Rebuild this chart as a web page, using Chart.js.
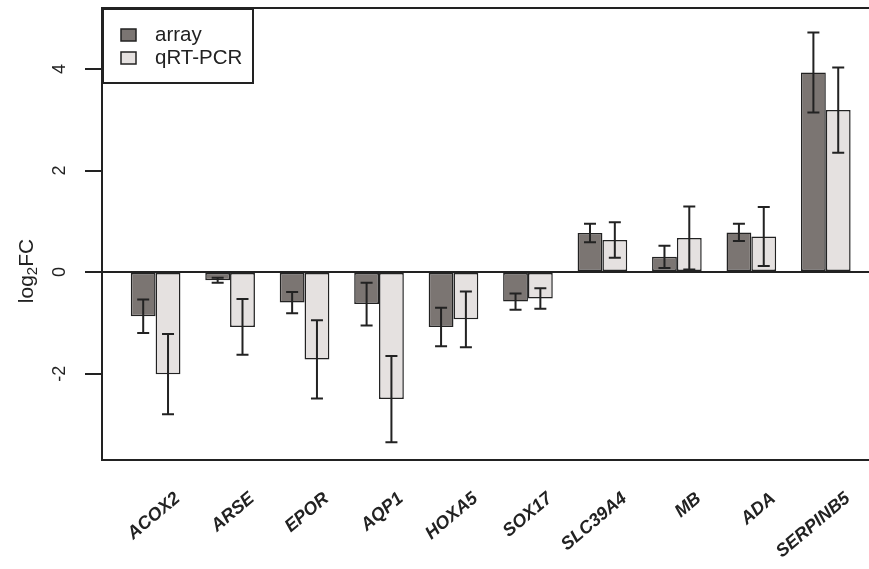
<!DOCTYPE html>
<html>
<head>
<meta charset="utf-8">
<script src="https://cdn.jsdelivr.net/npm/chart.js@4.4.1/dist/chart.umd.min.js"></script>
<style>
    html, body { margin: 0; padding: 0; background: #fff; overflow: hidden; }
    #wrap { position: relative; width: 869px; height: 569px; }
</style>
</head>
<body>
<div id="wrap"><canvas id="fcChart"></canvas></div>
<script>
// log2 fold changes
const genes = ['ACOX2', 'ARSE', 'EPOR', 'AQP1', 'HOXA5', 'SOX17', 'SLC39A4', 'MB', 'ADA', 'SERPINB5'];
const arrayFC = [-0.87, -0.16, -0.60, -0.63, -1.08, -0.58, 0.77, 0.30, 0.78, 3.93];
const arrayErr = [0.33, 0.05, 0.21, 0.42, 0.38, 0.16, 0.18, 0.22, 0.17, 0.79];
const qpcrFC = [-2.01, -1.08, -1.72, -2.50, -0.93, -0.52, 0.63, 0.67, 0.70, 3.19];
const qpcrErr = [0.79, 0.55, 0.77, 0.85, 0.55, 0.20, 0.35, 0.62, 0.58, 0.84];
const yTicks = [-2, 0, 2, 4];

const INK = '#222222';
const ARRAY_COLOR = '#7b7572';
const QPCR_COLOR = '#e5e1e0';

// bars sit at group index 1..10 on a linear x axis (R barplot spacing)
const toPoints = vals => vals.map((v, i) => ({ x: i + 1, y: v }));

// error bars drawn from the data through the scales
const errorBars = {
    id: 'errorBars',
    afterDatasetsDraw(chart) {
        const ctx = chart.ctx;
        const yScale = chart.scales.y;
        ctx.save();
        ctx.strokeStyle = INK;
        ctx.lineWidth = 2;
        chart.data.datasets.forEach((ds, di) => {
            const meta = chart.getDatasetMeta(di);
            meta.data.forEach((bar, i) => {
                const v = ds.data[i].y;
                const e = ds.errors[i];
                const top = yScale.getPixelForValue(v + e);
                const bot = yScale.getPixelForValue(v - e);
                const cap = 6;
                ctx.beginPath();
                ctx.moveTo(bar.x, top); ctx.lineTo(bar.x, bot);
                ctx.moveTo(bar.x - cap, top); ctx.lineTo(bar.x + cap, top);
                ctx.moveTo(bar.x - cap, bot); ctx.lineTo(bar.x + cap, bot);
                ctx.stroke();
            });
        });
        ctx.restore();
    }
};

// frame, y tick labels, y title and boxed legend (base R look)
const rFrame = {
    id: 'rFrame',
    afterDraw(chart) {
        const ctx = chart.ctx;
        const area = chart.chartArea;
        const yScale = chart.scales.y;
        ctx.save();

        // top frame line
        ctx.strokeStyle = INK;
        ctx.lineWidth = 2;
        ctx.beginPath();
        ctx.moveTo(area.left, area.top);
        ctx.lineTo(area.right, area.top);
        ctx.stroke();

        // rotated tick labels
        ctx.fillStyle = INK;
        ctx.font = '18px "Liberation Sans", Arial, sans-serif';
        ctx.textAlign = 'center';
        ctx.textBaseline = 'middle';
        yTicks.forEach(t => {
            const y = yScale.getPixelForValue(t);
            ctx.save();
            ctx.translate(area.left - 42, y);
            ctx.rotate(-Math.PI / 2);
            ctx.fillText(String(t), 0, 0);
            ctx.restore();
        });

        // y title: log2FC with subscript
        ctx.save();
        ctx.translate(27, (area.top + area.bottom) / 2 + 37);
        ctx.rotate(-Math.PI / 2);
        const big = '21px "Liberation Sans", Arial, sans-serif';
        const small = '15px "Liberation Sans", Arial, sans-serif';
        ctx.font = big;
        const w1 = ctx.measureText('log').width;
        const w3 = ctx.measureText('FC').width;
        ctx.font = small;
        const w2 = ctx.measureText('2').width;
        let x = -(w1 + w2 + w3) / 2;
        ctx.textAlign = 'left';
        ctx.font = big;
        ctx.fillText('log', x, 0); x += w1;
        ctx.font = small;
        ctx.fillText('2', x, 6); x += w2;
        ctx.font = big;
        ctx.fillText('FC', x, 0);
        ctx.restore();

        // legend box
        const lx = area.left + 1, ly = area.top + 1;
        ctx.fillStyle = '#fff';
        ctx.fillRect(lx, ly, 150, 74);
        ctx.strokeStyle = INK;
        ctx.lineWidth = 2;
        ctx.strokeRect(lx, ly, 150, 74);
        ctx.font = '20.5px "Liberation Sans", Arial, sans-serif';
        ctx.textAlign = 'left';
        ctx.textBaseline = 'middle';
        chart.data.datasets.forEach((ds, i) => {
            const cy = ly + 26 + i * 23;
            ctx.fillStyle = ds.backgroundColor;
            ctx.fillRect(lx + 18, cy - 6, 15, 12);
            ctx.lineWidth = 1.5;
            ctx.strokeRect(lx + 18, cy - 6, 15, 12);
            ctx.fillStyle = INK;
            ctx.fillText(ds.label, lx + 52, cy);
        });
        ctx.restore();
    }
};

new Chart(document.getElementById('fcChart'), {
    type: 'bar',
    data: {
        datasets: [
            {
                label: 'array',
                data: toPoints(arrayFC),
                errors: arrayErr,
                backgroundColor: ARRAY_COLOR,
                borderColor: INK,
                borderWidth: 1.5,
                borderSkipped: false
            },
            {
                label: 'qRT-PCR',
                data: toPoints(qpcrFC),
                errors: qpcrErr,
                backgroundColor: QPCR_COLOR,
                borderColor: INK,
                borderWidth: 1.5,
                borderSkipped: false
            }
        ]
    },
    options: {
        responsive: true,
        maintainAspectRatio: false,
        animation: false,
        categoryPercentage: 2 / 3,
        barPercentage: 1,
        layout: { padding: { top: 8, left: 0, right: 0, bottom: 0 } },
        plugins: {
            legend: { display: false },
            tooltip: { enabled: false }
        },
        scales: {
            x: {
                type: 'linear',
                offset: false,
                min: 0.28,
                max: 10.58,
                afterBuildTicks: scale => {
                    scale.ticks = genes.map((g, i) => ({ value: i + 1 }));
                },
                afterFit: scale => { scale.height = 109; },
                grid: { display: false, drawTicks: false, offset: false },
                border: { display: true, color: INK, width: 2 },
                ticks: {
                    autoSkip: false,
                    minRotation: 40,
                    maxRotation: 40,
                    padding: 28,
                    labelOffset: 22,
                    color: INK,
                    font: { family: '"Liberation Sans", Arial, sans-serif', size: 18, weight: 'bold', style: 'italic' },
                    callback: value => genes[value - 1] || ''
                }
            },
            y: {
                min: -3.70,
                max: 5.20,
                afterBuildTicks: scale => {
                    scale.ticks = yTicks.map(v => ({ value: v }));
                },
                afterFit: scale => { scale.width = 102; },
                grid: {
                    drawOnChartArea: true,
                    drawTicks: true,
                    tickLength: 17,
                    tickWidth: 2,
                    lineWidth: 2,
                    tickColor: INK,
                    color: c => (c.tick && c.tick.value === 0) ? INK : 'rgba(0,0,0,0)'
                },
                border: { display: true, color: INK, width: 2 },
                ticks: { display: false }
            }
        }
    },
    plugins: [errorBars, rFrame]
});
</script>
</body>
</html>
